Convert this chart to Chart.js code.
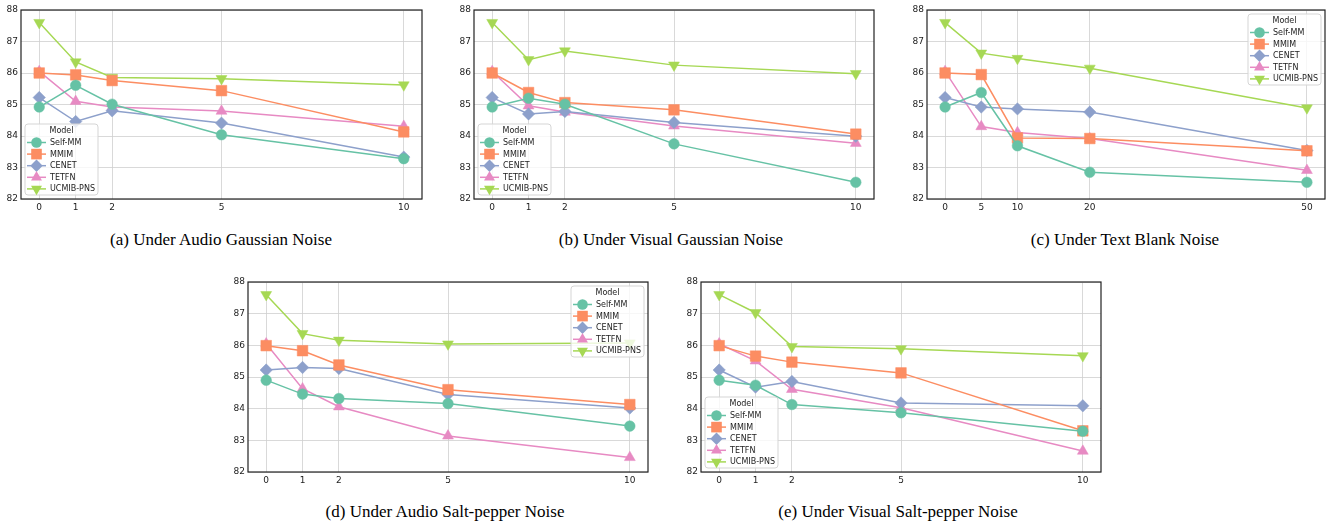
<!DOCTYPE html>
<html>
<head>
<meta charset="utf-8">
<script src="https://cdn.jsdelivr.net/npm/chart.js@4.4.1/dist/chart.umd.min.js"></script>
<style>
body { margin: 0; background: #fff; width: 1333px; height: 525px; position: relative; overflow: hidden; }
.panel { position: absolute; }
.cap { position: absolute; font-family: "Liberation Serif", serif; font-size: 17px; color: #000;
       transform: translate(-50%, -50%); white-space: nowrap; }
</style>
</head>
<body>
<div class="panel" id="pa"><canvas id="ca"></canvas></div>
<div class="panel" id="pb"><canvas id="cb"></canvas></div>
<div class="panel" id="pc"><canvas id="cc"></canvas></div>
<div class="panel" id="pd"><canvas id="cd"></canvas></div>
<div class="panel" id="pe"><canvas id="ce"></canvas></div>
<div class="cap" style="left:221px;top:240px">(a) Under Audio Gaussian Noise</div>
<div class="cap" style="left:671px;top:240px">(b) Under Visual Gaussian Noise</div>
<div class="cap" style="left:1125px;top:240px">(c) Under Text Blank Noise</div>
<div class="cap" style="left:445px;top:512px">(d) Under Audio Salt-pepper Noise</div>
<div class="cap" style="left:898px;top:512px">(e) Under Visual Salt-pepper Noise</div>
<script>
const models = ["Self-MM", "MMIM", "CENET", "TETFN", "UCMIB-PNS"];
const noiseLevels = [0, 1, 2, 5, 10];
const blankLevels = [0, 5, 10, 20, 50];
const yTicks = [82, 83, 84, 85, 86, 87, 88];

// one row per model, in the order of `models`
const audioGaussian = [
    [84.92, 85.61, 85.01, 84.04, 83.28],
    [86.0, 85.94, 85.76, 85.44, 84.13],
    [85.22, 84.46, 84.80, 84.41, 83.33],
    [86.05, 85.10, 84.92, 84.79, 84.31],
    [87.6, 86.35, 85.86, 85.82, 85.62],
];
const visualGaussian = [
    [84.92, 85.20, 85.01, 83.75, 82.53],
    [86.0, 85.38, 85.06, 84.83, 84.06],
    [85.22, 84.70, 84.78, 84.43, 83.99],
    [86.05, 84.96, 84.76, 84.32, 83.77],
    [87.6, 86.42, 86.70, 86.25, 85.98],
];
const textBlank = [
    [84.92, 85.38, 83.69, 82.85, 82.53],
    [86.0, 85.95, 83.94, 83.92, 83.53],
    [85.22, 84.92, 84.86, 84.76, 83.54],
    [86.05, 84.30, 84.11, 83.92, 82.91],
    [87.6, 86.63, 86.46, 86.15, 84.89],
];
const audioSaltPepper = [
    [84.90, 84.46, 84.32, 84.16, 83.45],
    [85.99, 85.83, 85.38, 84.60, 84.13],
    [85.22, 85.30, 85.27, 84.45, 84.02],
    [86.05, 84.63, 84.06, 83.14, 82.46],
    [87.6, 86.37, 86.16, 86.04, 86.07],
];
const visualSaltPepper = [
    [84.90, 84.74, 84.13, 83.87, 83.29],
    [85.99, 85.66, 85.47, 85.13, 83.30],
    [85.22, 84.68, 84.86, 84.18, 84.09],
    [86.05, 85.51, 84.61, 84.03, 82.66],
    [87.6, 87.03, 85.96, 85.89, 85.67],
];

const colors = ["#66c2a5", "#fc8d62", "#8da0cb", "#e78ac3", "#a6d854"];
const markers = ["circle", "rect", "rectRot", "triangle", "triangle"];
const markerRot = [0, 0, 0, 0, 180];
const markerSize = [5.3, 7.5, 6.2, 6.3, 6.3];

// black frame round the plot area
const frame = {
    id: "frame",
    afterDraw(chart) {
        const { ctx, chartArea: a } = chart;
        ctx.save();
        ctx.strokeStyle = "#222";
        ctx.lineWidth = 1.2;
        ctx.strokeRect(a.left, a.top, a.right - a.left, a.bottom - a.top);
        ctx.restore();
    },
};

// matplotlib-like legend: titled box, line + marker per entry
const boxLegend = {
    id: "boxLegend",
    afterDatasetsDraw(chart, args, opts) {
        const { ctx, chartArea: a } = chart;
        const w = 73, h = 71;
        const x = opts.corner === "ur" ? a.right - w - 4 : a.left + 4;
        const y = opts.corner === "ur" ? a.top + 4 : a.bottom - h - 4;
        ctx.save();
        ctx.beginPath();
        ctx.roundRect(x, y, w, h, 3);
        ctx.fillStyle = "rgba(255,255,255,0.8)";
        ctx.fill();
        ctx.strokeStyle = "#d5d5d5";
        ctx.lineWidth = 1;
        ctx.stroke();
        ctx.font = "8px 'DejaVu Sans'";
        ctx.fillStyle = "#222";
        ctx.textBaseline = "middle";
        ctx.textAlign = "center";
        ctx.fillText("Model", x + w / 2, y + 6.5);
        ctx.textAlign = "left";
        chart.data.datasets.forEach((ds, i) => {
            const ry = y + 18.5 + i * 11.6;
            ctx.strokeStyle = ds.borderColor;
            ctx.lineWidth = 1.5;
            ctx.beginPath();
            ctx.moveTo(x + 2, ry);
            ctx.lineTo(x + 21, ry);
            ctx.stroke();
            ctx.fillStyle = ds.backgroundColor;
            Chart.helpers.drawPoint(ctx, {
                pointStyle: ds.pointStyle,
                rotation: ds.pointRotation,
                radius: ds.pointRadius,
                borderWidth: 0,
            }, x + 11.5, ry);
            ctx.fillStyle = "#222";
            ctx.fillText(ds.label, x + 25, ry + 0.5);
        });
        ctx.restore();
    },
};

function makePanel(id, canvasId, plot, levels, rows, corner) {
    const xPad = (levels[levels.length - 1] - levels[0]) * 0.05;
    const padRight = 1333 - plot.right < 4 ? 1333 - plot.right : 4;
    const box = document.getElementById(id);
    box.style.left = (plot.left - 22) + "px";
    box.style.top = (plot.top - 10) + "px";
    box.style.width = (plot.right - plot.left + 22 + padRight) + "px";
    box.style.height = (plot.bottom - plot.top + 26) + "px";

    const datasets = models.map((m, i) => ({
        label: m,
        data: levels.map((lv, j) => ({ x: lv, y: rows[i][j] })),
        borderColor: colors[i],
        backgroundColor: colors[i],
        borderWidth: 1.5,
        pointStyle: markers[i],
        pointRotation: markerRot[i],
        pointRadius: markerSize[i],
        pointHoverRadius: markerSize[i],
        pointBorderWidth: 0.5,
        tension: 0,
    }));

    new Chart(document.getElementById(canvasId), {
        type: "line",
        data: { datasets: datasets },
        options: {
            responsive: true,
            maintainAspectRatio: false,
            animation: false,
            layout: { padding: { top: 10, right: padRight, left: 0, bottom: 0 } },
            scales: {
                x: {
                    type: "linear",
                    min: levels[0] - xPad,
                    max: levels[levels.length - 1] + xPad,
                    afterBuildTicks: (s) => { s.ticks = levels.map((v) => ({ value: v })); },
                    afterFit: (s) => { s.height = 16; },
                    border: { display: false },
                    grid: { color: "#cfcfcf", lineWidth: 0.8, borderDash: [2, 2], drawTicks: false },
                    ticks: {
                        padding: 3,
                        color: "#222",
                        font: { family: "DejaVu Sans", size: 9 },
                        autoSkip: false,
                        maxRotation: 0,
                    },
                },
                y: {
                    min: 82,
                    max: 88,
                    afterBuildTicks: (s) => { s.ticks = yTicks.map((v) => ({ value: v })); },
                    afterFit: (s) => { s.width = 22; },
                    border: { display: false },
                    grid: { color: "#cfcfcf", lineWidth: 0.8, borderDash: [2, 2], drawTicks: false },
                    ticks: {
                        padding: 3,
                        color: "#222",
                        font: { family: "DejaVu Sans", size: 9 },
                    },
                },
            },
            plugins: {
                legend: { display: false },
                tooltip: { enabled: false },
                boxLegend: { corner: corner },
            },
        },
        plugins: [frame, boxLegend],
    });
}

makePanel("pa", "ca", { left: 21, top: 10, right: 426, bottom: 199 }, noiseLevels, audioGaussian, "ll");
makePanel("pb", "cb", { left: 474, top: 10, right: 878, bottom: 199 }, noiseLevels, visualGaussian, "ll");
makePanel("pc", "cc", { left: 927, top: 10, right: 1331, bottom: 199 }, blankLevels, textBlank, "ur");
makePanel("pd", "cd", { left: 248, top: 282, right: 652, bottom: 472 }, noiseLevels, audioSaltPepper, "ur");
makePanel("pe", "ce", { left: 701, top: 282, right: 1105, bottom: 472 }, noiseLevels, visualSaltPepper, "ll");
</script>
</body>
</html>
